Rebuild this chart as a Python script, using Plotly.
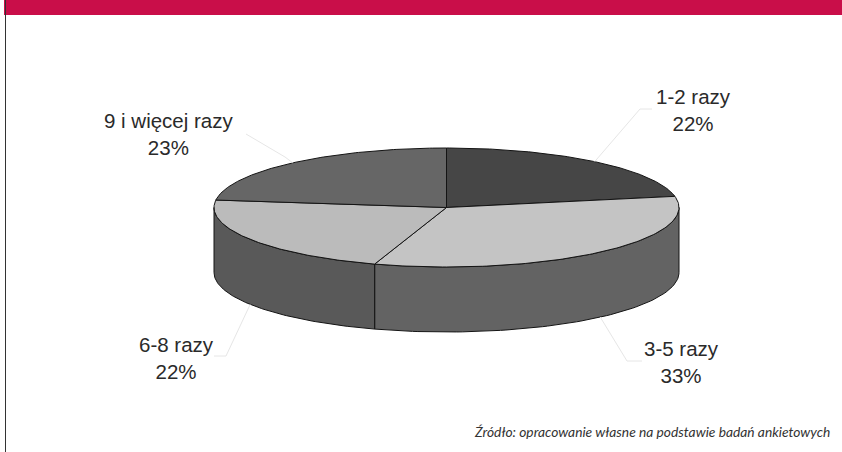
import numpy as np
import plotly.graph_objects as go

categories = ["1-2 razy", "3-5 razy", "6-8 razy", "9 i więcej razy"]
shares = [22, 33, 22, 23]
top_colors = ["#464646", "#C4C4C4", "#BBBBBB", "#666666"]
side_colors = ["#464646", "#636363", "#595959", "#666666"]
label_pos = [(693, 110), (681, 362), (176, 358), (168, 134)]
leader_elbow = [((640, 109), (652, 109)), ((627, 361), (642, 361)), ((226, 356), (214, 356)), ((285, 157), (246, 134))]
source_text = "Źródło: opracowanie własne na podstawie badań ankietowych"

W, H = 842, 452
CX, CY, RX, RY, DEPTH = 446.5, 207.5, 232.5, 59.5, 65


def pt(t, dy=0.0):
    t = np.asarray(t, dtype=float)
    return CX + RX * np.sin(np.radians(t)), CY - RY * np.cos(np.radians(t)) + dy


fig = go.Figure()
edges = np.cumsum([0] + shares) * 3.6


def poly(x, y, color):
    fig.add_trace(go.Scatter(x=x, y=y, mode="lines", fill="toself", fillcolor=color,
                             line=dict(color="#141414", width=1), hoverinfo="skip", showlegend=False))


# walls (visible front half only)
for i in range(len(shares)):
    a, b = max(edges[i], 90), min(edges[i + 1], 270)
    if a >= b:
        continue
    t = np.linspace(a, b, 80)
    xt, yt = pt(t)
    xb, yb = pt(t[::-1], DEPTH)
    poly(np.r_[xt, xb, xt[0]], np.r_[yt, yb, yt[0]], side_colors[i])

# top faces
for i in range(len(shares)):
    t = np.linspace(edges[i], edges[i + 1], 120)
    xt, yt = pt(t)
    poly(np.r_[CX, xt, CX], np.r_[CY, yt, CY], top_colors[i])

# leader lines start on the rim at each slice's mid-angle
for i in range(len(shares)):
    mid = (edges[i] + edges[i + 1]) / 2
    x0, y0 = pt(mid, DEPTH if 90 < mid < 270 else 0)
    (x1, y1), (x2, y2) = leader_elbow[i]
    fig.add_trace(go.Scatter(x=[float(x0), x1, x2], y=[float(y0), y1, y2], mode="lines",
                             line=dict(color="#E6E6E6", width=1), hoverinfo="skip", showlegend=False))

for name, val, (x, y) in zip(categories, shares, label_pos):
    fig.add_annotation(x=x, y=y, text=f"{name}<br>{val}%", showarrow=False, align="center",
                       font=dict(family="Liberation Sans", size=20.5, color="#2A2A2A"))

fig.add_annotation(x=832, y=431, xanchor="right", text=f"<i>{source_text}</i>", showarrow=False,
                   font=dict(family="Lato", size=13.8, color="#333333"))

fig.update_layout(
    width=W, height=H, margin=dict(l=0, r=0, t=0, b=0),
    paper_bgcolor="white", plot_bgcolor="white",
    xaxis=dict(range=[0, W], visible=False, fixedrange=True),
    yaxis=dict(range=[H, 0], visible=False, fixedrange=True),
    shapes=[
        dict(type="rect", x0=4, x1=W, y0=0, y1=15, fillcolor="#C90E49", line_width=0, layer="below"),
        dict(type="line", x0=5.5, x1=5.5, y0=0, y1=H, line=dict(color="#333333", width=1), layer="below"),
    ],
)
fig.write_html("out.html", config={"displayModeBar": False},
               post_script="document.body.style.margin='0';document.body.style.overflow='hidden';")
